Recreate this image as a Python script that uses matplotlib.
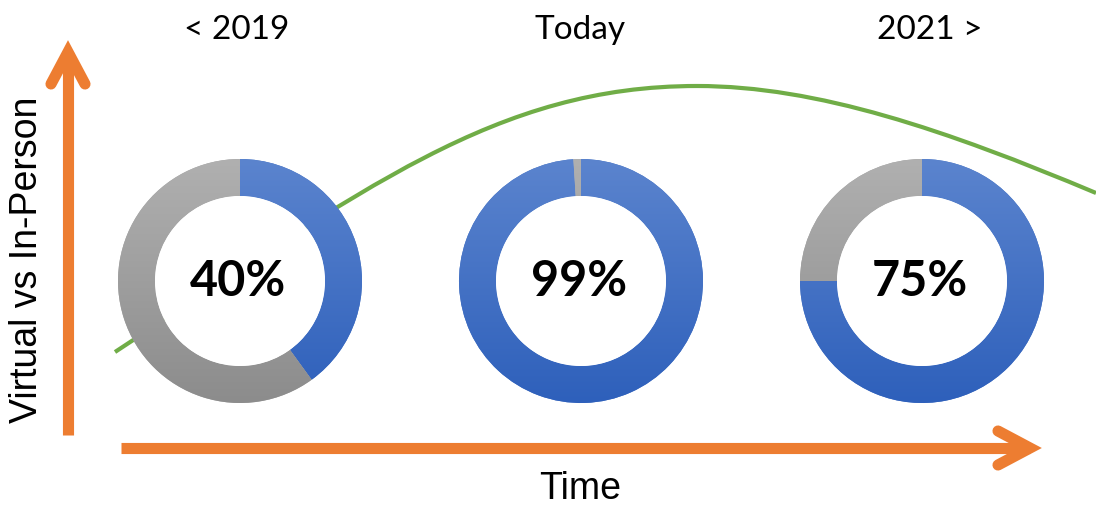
import matplotlib
matplotlib.use("Agg")
import matplotlib.pyplot as plt
import numpy as np
from matplotlib.colors import LinearSegmentedColormap
from matplotlib.patches import Circle, PathPatch
from matplotlib.path import Path

# ---------------- data ----------------
periods = ["< 2019", "Today", "2021 >"]
virtual_pct = [40, 99, 75]
pct_labels = ["40%", "99%", "75%"]

# decorative trend curve: cubic Bezier anchors/handles
# (x pixel, y pixel from top)
trend_x = [115, 365, 497, 697, 817, 946, 1096]
trend_y = [352, 188, 86, 86, 86, 130, 193]

# ---------------- layout ----------------
W, H = 1096, 509
fig = plt.figure(figsize=(W / 100, H / 100), dpi=100)
ax = fig.add_axes([0, 0, 1, 1])

def py(y):
    return H - y

ORANGE = "#ED7D31"
GREEN = "#70AD47"
blue_cmap = LinearSegmentedColormap.from_list("b", ["#2E60BB", "#5B84CE"])
gray_cmap = LinearSegmentedColormap.from_list("g", ["#8C8C8C", "#B0B0B0"])

centers_x = [240, 581, 922]
center_y = 281
R_OUT, R_IN = 122, 85

# green trend curve
verts = [(x, py(y)) for x, y in zip(trend_x, trend_y)]
codes = [Path.MOVETO] + [Path.CURVE4] * (len(verts) - 1)
ax.add_patch(PathPatch(Path(verts, codes), facecolor="none", edgecolor=GREEN,
                       lw=3.0, capstyle="butt", zorder=1))

grad = np.linspace(0, 1, 256).reshape(-1, 1)
for cx, pct, lab in zip(centers_x, virtual_pct, pct_labels):
    cy = py(center_y)
    wedges, _ = ax.pie([pct, 100 - pct], center=(cx, cy), radius=R_OUT,
                       startangle=90, counterclock=False,
                       colors=["#4472C4", "#A5A5A5"],
                       wedgeprops=dict(width=R_OUT - R_IN, edgecolor="none", linewidth=0))
    for w, cmap in zip(wedges, [blue_cmap, gray_cmap]):
        w.set_zorder(2)
        im = ax.imshow(grad, cmap=cmap, origin="lower", aspect="auto",
                       extent=[cx - R_OUT, cx + R_OUT, cy - R_OUT, cy + R_OUT],
                       zorder=3, interpolation="bilinear")
        im.set_clip_path(w)
    ax.add_patch(Circle((cx, cy), R_IN, facecolor="white", edgecolor="none", zorder=4))
    ax.text(cx - 2, cy, lab, ha="center", va="center", fontsize=35,
            fontweight="bold", family="Lato", color="black", zorder=5)

# top period labels
for x, lab in zip([237, 580, 930], periods):
    ax.text(x, py(30), lab, ha="center", va="center", fontsize=24,
            family="Lato", color="black")

# axis titles
ax.text(27, py(260), "Virtual vs In-Person", rotation=90, ha="center", va="center",
        fontsize=27, family="Liberation Sans", color="black")
ax.text(580, py(489), "Time", ha="center", va="center",
        fontsize=27, family="Liberation Sans", color="black")

# orange arrows
LW = 8
ax.plot([121, 1030], [py(448), py(448)], color=ORANGE, lw=LW, solid_capstyle="butt")
ax.plot([998, 1030, 998], [py(431), py(448), py(465)], color=ORANGE, lw=LW,
        solid_capstyle="round", solid_joinstyle="miter")
ax.plot([68, 68], [py(435), py(52)], color=ORANGE, lw=LW, solid_capstyle="butt")
ax.plot([51, 68, 85], [py(84), py(52), py(84)], color=ORANGE, lw=LW,
        solid_capstyle="round", solid_joinstyle="miter")

ax.set_xlim(0, W)
ax.set_ylim(0, H)
ax.set_aspect("auto")
ax.axis("off")
fig.savefig("out.png", dpi=100, facecolor="white")
